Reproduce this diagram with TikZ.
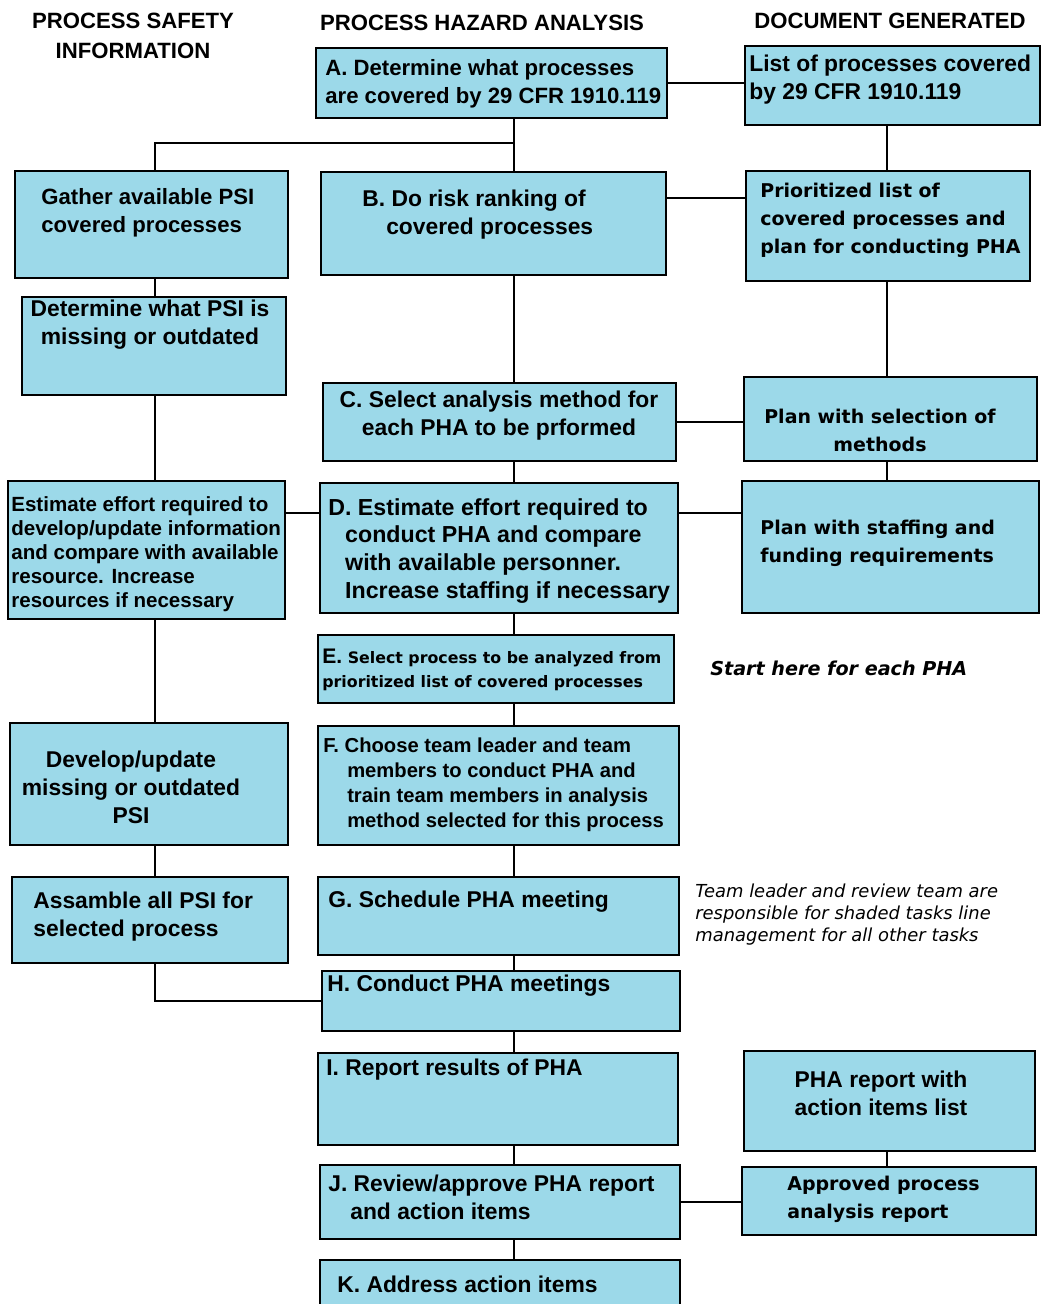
\documentclass[tikz,border=0pt]{standalone}
\usepackage{fontspec}
\setmainfont{Liberation Sans}
\newfontfamily\verdfont{DejaVu Sans}
\usetikzlibrary{fit}
\definecolor{boxblue}{RGB}{156,217,233}

\tikzset{
  box/.style={draw, line width=1.2pt, fill=boxblue, inner sep=0pt},
  link/.style={line width=1.1pt},
  head/.style={inner sep=0pt, align=center, font=\fontsize{12.6}{17}\selectfont\bfseries},
  txt/.style={inner sep=0pt, anchor=west, align=left, font=\fontsize{13}{15.9}\selectfont\bfseries},
  ctxt/.style={txt, anchor=center, align=center},
  doc/.style={txt, font=\verdfont\fontsize{10.8}{15.9}\selectfont\bfseries},
  note/.style={txt, font=\verdfont\fontsize{10.2}{12.5}\selectfont\itshape}
}

\begin{document}
\begin{tikzpicture}[x=0.02cm, y=-0.02cm]
    \useasboundingbox (0,0) rectangle (1042,1304);
    \clip (0,0) rectangle (1042,1304);

    % column headings
    \node[head] (h1) at (133,36) {PROCESS SAFETY\\INFORMATION};
    \node[head] (h2) at (482,23) {PROCESS HAZARD ANALYSIS};
    \node[head] (h3) at (890,21) {DOCUMENT GENERATED};

    % spines and branch points
    \coordinate (lspine) at (155,0);
    \coordinate (spine) at (514,0);
    \coordinate (rspine) at (887,0);
    \coordinate (fork) at (514,143);
    \coordinate (rowB) at (0,198);
    \coordinate (rowD) at (0,513);

    % boxes
    \node[box, fit={(316,48) (667,118)}] (A) {};
    \node[box, fit={(745,46) (1040,125)}] (Alist) {};
    \node[box, fit={(15,171) (288,278)}] (Gather) {};
    \node[box, fit={(321,172) (666,275)}] (B) {};
    \node[box, fit={(746,171) (1030,281)}] (Prior) {};
    \node[box, fit={(22,297) (286,395)}] (Determine) {};
    \node[box, fit={(323,383) (676,461)}] (C) {};
    \node[box, fit={(744,377) (1037,461)}] (Plansel) {};
    \node[box, fit={(8,481) (285,619)}] (Estimate) {};
    \node[box, fit={(320,483) (678,613)}] (D) {};
    \node[box, fit={(742,481) (1039,613)}] (Planstaff) {};
    \node[box, fit={(318,635) (674,703)}] (E) {};
    \node[box, fit={(10,723) (288,845)}] (Develop) {};
    \node[box, fit={(318,726) (679,845)}] (F) {};
    \node[box, fit={(12,877) (288,963)}] (Assemble) {};
    \node[box, fit={(318,877) (679,955)}] (G) {};
    \node[box, fit={(322,971) (680,1031)}] (H) {};
    \node[box, fit={(318,1053) (678,1145)}] (I) {};
    \node[box, fit={(744,1051) (1035,1151)}] (Report) {};
    \node[box, fit={(320,1165) (680,1239)}] (J) {};
    \node[box, fit={(742,1167) (1036,1235)}] (Approved) {};
    \node[box, fit={(320,1260) (680,1315)}] (K) {};

    % box texts
    \node[txt, font=\fontsize{12.6}{15.9}\selectfont\bfseries] (tA) at (325,84) {A. Determine what processes\\are covered by 29 CFR 1910.119};
    \node[txt] (tAlist) at (749,80) {List of processes covered\\by 29 CFR 1910.119};
    \node[txt, font=\fontsize{12.6}{15.9}\selectfont\bfseries] (tGather) at (41,213) {Gather available PSI\\covered processes};
    \node[txt] (tB) at (362,215) {B. Do risk ranking of\\\hspace*{13.6pt}covered processes};
    \node[doc] (tPrior) at (760,220) {Prioritized list of\\covered processes and\\plan for conducting PHA};
    \node[ctxt] (tDetermine) at (150,325) {Determine what PSI is\\missing or outdated};
    \node[ctxt] (tC) at (499,416) {C. Select analysis method for\\each PHA to be prformed};
    \node[doc, anchor=center, align=center] (tPlansel) at (880,430) {Plan with selection of\\methods};
    \node[txt, font=\fontsize{11.7}{13.6}\selectfont\bfseries] (tEstimate) at (11,554) {Estimate effort required to\\develop/update information\\and compare with available\\resource. Increase\\resources if necessary};
    \node[txt, font=\fontsize{13.2}{15.9}\selectfont\bfseries] (tD) at (328,551) {D. Estimate effort required to\\\hspace*{9.6pt}conduct PHA and compare\\\hspace*{9.6pt}with available personner.\\\hspace*{9.6pt}Increase staffing if necessary};
    \node[doc] (tPlanstaff) at (760,543) {Plan with staffing and\\funding requirements};
    \node[txt, font=\verdfont\fontsize{9}{13.6}\selectfont\bfseries] (tE) at (322,670) {{\normalfont\fontsize{12}{13.6}\selectfont\bfseries E.} Select process to be analyzed from\\prioritized list of covered processes};
    \node[ctxt] (tDevelop) at (131,787) {Develop/update\\missing or outdated\\PSI};
    \node[txt, font=\fontsize{11.5}{14.2}\selectfont\bfseries] (tF) at (323,785) {F. Choose team leader and team\\\hspace*{13.6pt}members to conduct PHA and\\\hspace*{13.6pt}train team members in analysis\\\hspace*{13.6pt}method selected for this process};
    \node[txt] (tAssemble) at (33,917) {Assamble all PSI for\\selected process};
    \node[txt] (tG) at (328,902) {G. Schedule PHA meeting};
    \node[txt] (tH) at (327,986) {H. Conduct PHA meetings};
    \node[txt] (tI) at (326,1070) {I. Report results of PHA};
    \node[ctxt] (tReport) at (881,1093) {PHA report with\\action items list};
    \node[txt] (tJ) at (328,1197) {J. Review/approve PHA report\\\hspace*{12.5pt}and action items};
    \node[doc] (tApproved) at (787,1199) {Approved process\\analysis report};
    \node[txt] (tK) at (337,1284) {K. Address action items};

    % free notes
    \node[txt, font=\verdfont\fontsize{10.9}{13}\selectfont\bfseries\itshape] (start) at (710,668) {Start here for each PHA};
    \node[note] (resp) at (695,915) {Team leader and review team are\\responsible for shaded tasks line\\management for all other tasks};

    % main column
    \draw[link] (spine |- A.south) -- (spine |- B.north);
    \draw[link] (spine |- B.south) -- (spine |- C.north);
    \draw[link] (spine |- C.south) -- (spine |- D.north);
    \draw[link] (spine |- D.south) -- (spine |- E.north);
    \draw[link] (spine |- E.south) -- (spine |- F.north);
    \draw[link] (spine |- F.south) -- (spine |- G.north);
    \draw[link] (spine |- G.south) -- (spine |- H.north);
    \draw[link] (spine |- H.south) -- (spine |- I.north);
    \draw[link] (spine |- I.south) -- (spine |- J.north);
    \draw[link] (spine |- J.south) -- (spine |- K.north);

    % safety information column
    \draw[link] (fork) -- (lspine |- fork) -- (lspine |- Gather.north);
    \draw[link] (lspine |- Gather.south) -- (lspine |- Determine.north);
    \draw[link] (lspine |- Determine.south) -- (lspine |- Estimate.north);
    \draw[link] (lspine |- Estimate.south) -- (lspine |- Develop.north);
    \draw[link] (lspine |- Develop.south) -- (lspine |- Assemble.north);
    \draw[link] (lspine |- Assemble.south) |- (H.west);
    \draw[link] (Estimate.east |- rowD) -- (D.west |- rowD);

    % documents column
    \draw[link] (A.east) -- (A.east -| Alist.west);
    \draw[link] (B.east |- rowB) -- (Prior.west |- rowB);
    \draw[link] (C.east) -- (C.east -| Plansel.west);
    \draw[link] (D.east |- rowD) -- (Planstaff.west |- rowD);
    \draw[link] (J.east) -- (J.east -| Approved.west);
    \draw[link] (rspine |- Alist.south) -- (rspine |- Prior.north);
    \draw[link] (rspine |- Prior.south) -- (rspine |- Plansel.north);
    \draw[link] (rspine |- Plansel.south) -- (rspine |- Planstaff.north);
    \draw[link] (rspine |- Report.south) -- (rspine |- Approved.north);
\end{tikzpicture}
\end{document}
